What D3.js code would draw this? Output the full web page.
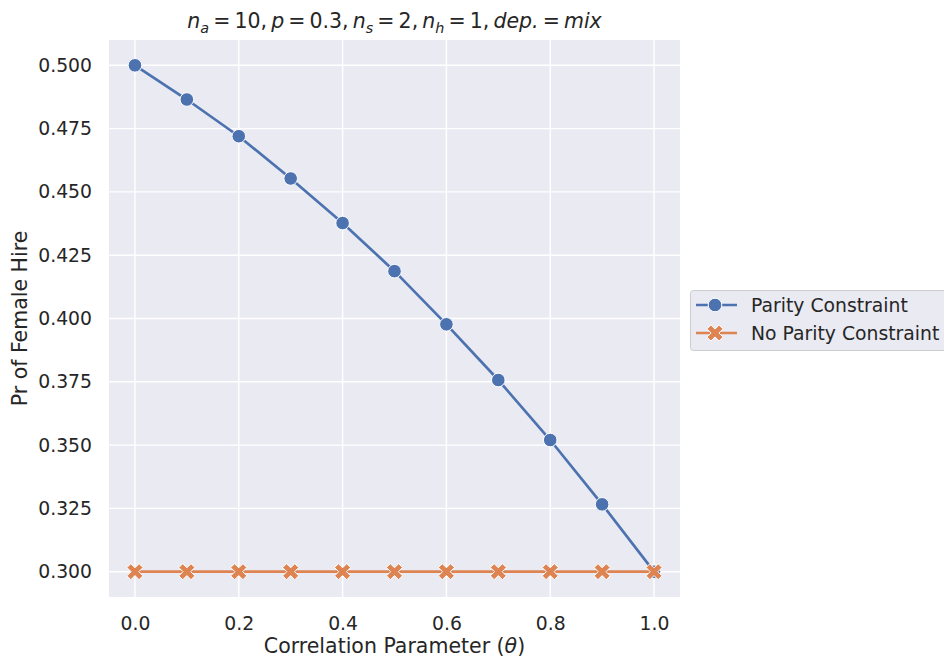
<!DOCTYPE html>
<html><head><meta charset="utf-8">
<script src="https://cdn.jsdelivr.net/npm/d3@7"></script>
<style>body{margin:0;background:#fff;} text{font-family:"DejaVu Sans",sans-serif;fill:#262626;}</style>
</head><body><svg id="c" width="944" height="659"></svg>
<script>
const thetas = [0.0,0.1,0.2,0.3,0.4,0.5,0.6,0.7,0.8,0.9,1.0];
const parity = [0.500,0.4865,0.472,0.4553,0.4377,0.4187,0.3977,0.3757,0.352,0.3266,0.300];
const noParity = [0.300,0.300,0.300,0.300,0.300,0.300,0.300,0.300,0.300,0.300,0.300];
const xTicks = [0.0,0.2,0.4,0.6,0.8,1.0];
const yTicks = [0.300,0.325,0.350,0.375,0.400,0.425,0.450,0.475,0.500];
const seriesNames = ["Parity Constraint","No Parity Constraint"];
const colors = ["#4c72b0","#dd8452"];

const svg = d3.select("#c");
const L=109, R=680, T=40, B=597;
const x = d3.scaleLinear().domain([-0.05,1.05]).range([L,R]);
const y = d3.scaleLinear().domain([0.29,0.51]).range([B,T]);

svg.append("rect").attr("x",L).attr("y",T).attr("width",R-L).attr("height",B-T).attr("fill","#eaeaf2");
const g = svg.append("g");
g.selectAll(".vg").data(xTicks).enter().append("line")
 .attr("x1",d=>x(d)).attr("x2",d=>x(d)).attr("y1",T).attr("y2",B).attr("stroke","#fff").attr("stroke-width",1.4);
g.selectAll(".hg").data(yTicks).enter().append("line")
 .attr("y1",d=>y(d)).attr("y2",d=>y(d)).attr("x1",L).attr("x2",R).attr("stroke","#fff").attr("stroke-width",1.4);

const xa = svg.append("g").attr("transform",`translate(0,${B})`)
 .call(d3.axisBottom(x).tickValues(xTicks).tickFormat(d3.format(".1f")).tickSize(0).tickPadding(20));
const ya = svg.append("g").attr("transform",`translate(${L},0)`)
 .call(d3.axisLeft(y).tickValues(yTicks).tickFormat(d3.format(".3f")).tickSize(0).tickPadding(17));
[xa,ya].forEach(a=>{a.select(".domain").remove(); a.selectAll("text").style("font-size","18.8px").attr("fill","#262626").style("font-family","DejaVu Sans");});

const line = d3.line().x((d,i)=>x(thetas[i])).y(d=>y(d));

function xPath(s){
  const t=s*0.32, Lm=s;
  const pts=[[t,Lm],[t,t],[Lm,t],[Lm,-t],[t,-t],[t,-Lm],[-t,-Lm],[-t,-t],[-Lm,-t],[-Lm,t],[-t,t],[-t,Lm]];
  const c=Math.SQRT1_2;
  return "M"+pts.map(p=>[(p[0]-p[1])*c,(p[0]+p[1])*c].join(",")).join("L")+"Z";
}
// series 1: parity
svg.append("path").datum(parity).attr("d",line).attr("fill","none").attr("stroke",colors[0]).attr("stroke-width",2.7);
svg.selectAll(".cm").data(parity).enter().append("circle")
 .attr("cx",(d,i)=>x(thetas[i])).attr("cy",d=>y(d)).attr("r",6.8)
 .attr("fill",colors[0]).attr("stroke","#fff").attr("stroke-width",1);
// series 2: no parity
svg.append("path").datum(noParity).attr("d",line).attr("fill","none").attr("stroke",colors[1]).attr("stroke-width",2.7);
svg.selectAll(".xm").data(noParity).enter().append("path")
 .attr("d",xPath(8.6)).attr("transform",(d,i)=>`translate(${x(thetas[i])},${y(d)})`)
 .attr("fill",colors[1]).attr("stroke","#fff").attr("stroke-width",1);

// title
const title = svg.append("text").attr("x",(L+R)/2).attr("y",28).attr("text-anchor","middle").style("font-size","20.5px");
const parts = [["n","i"],["a","sub"],["\u2009=\u200910,\u2009",""],["p","i"],["\u2009=\u20090.3,\u2009",""],["n","i"],["s","sub"],["\u2009=\u20092,\u2009",""],["n","i"],["h","sub"],["\u2009=\u20091,\u2009",""],["dep.","i"],["\u2009=\u2009",""],["mix","i"]];
let prevSub=false;
parts.forEach(p=>{
  const ts = title.append("tspan").text(p[0]);
  if(p[1]==="i") ts.style("font-style","italic");
  if(p[1]==="sub"){ts.style("font-style","italic").style("font-size","14.4px").attr("dy",4.5);prevSub=true;}
  else { if(prevSub) ts.attr("dy",-4.5); prevSub=false; }
});

svg.append("text").attr("x",(L+R)/2).attr("y",653).attr("text-anchor","middle").style("font-size","20.5px")
 .html('Correlation Parameter (<tspan font-style="italic">θ</tspan>)');
svg.append("text").attr("transform",`translate(27,${(T+B)/2}) rotate(-90)`).attr("text-anchor","middle").style("font-size","20.5px")
 .text("Pr of Female Hire");

// legend
const lg = svg.append("g");
lg.append("rect").attr("x",690.5).attr("y",290.5).attr("width",262).attr("height",60).attr("rx",3)
 .attr("fill","#eaeaf2").attr("stroke","#cccccc").attr("stroke-width",1);
seriesNames.forEach((n,i)=>{
  const yy = 305 + i*28;
  lg.append("line").attr("x1",696).attr("x2",737).attr("y1",yy).attr("y2",yy).attr("stroke",colors[i]).attr("stroke-width",2.7);
  if(i===0) lg.append("circle").attr("cx",715).attr("cy",yy).attr("r",6.8).attr("fill",colors[0]).attr("stroke","#fff").attr("stroke-width",1);
  else lg.append("path").attr("d",xPath(8.6)).attr("transform",`translate(715,${yy})`).attr("fill",colors[1]).attr("stroke","#fff").attr("stroke-width",1);
  lg.append("text").attr("x",751).attr("y",yy+6.8).style("font-size","18.8px").text(n);
});
</script></body></html>
